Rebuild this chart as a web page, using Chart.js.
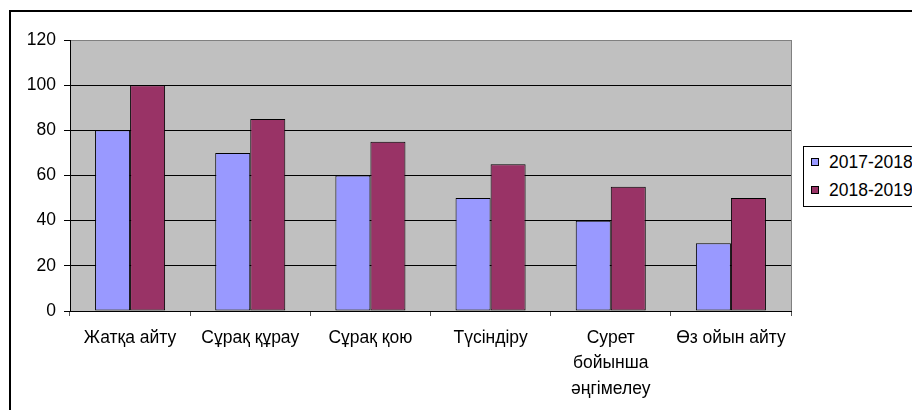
<!DOCTYPE html>
<html>
<head>
<meta charset="utf-8">
<script src="https://cdn.jsdelivr.net/npm/chart.js@4"></script>
<style>
   html, body {
      margin: 0;
      padding: 0;
      background: #fff;
      overflow: hidden;
   }
   #wrap {
      position: relative;
      width: 912px;
      height: 410px;
      overflow: hidden;
   }
   #legend {
      position: absolute;
      left: 803px;
      top: 146px;
      width: 140px;
      height: 61px;
      border: 1px solid #000;
      background: #fff;
      font-family: "Liberation Sans", Arial, sans-serif;
      font-size: 17.5px;
      color: #000;
      box-sizing: border-box;
   }
   .legend-item {
      position: absolute;
      left: 7px;
      height: 20px;
      display: flex;
      align-items: center;
      white-space: nowrap;
   }
   .legend-swatch {
      width: 6px;
      height: 6px;
      border: 1px solid #000;
      margin-right: 10px;
   }
</style>
</head>
<body>
<div id="wrap">
   <canvas id="chart" width="912" height="410"></canvas>
   <div id="legend"></div>
</div>
<script>
const categories = [
   "Жатқа айту",
   "Сұрақ құрау",
   "Сұрақ қою",
   "Түсіндіру",
   ["Сурет", "бойынша", "әңгімелеу"],
   "Өз ойын айту"
];
const seriesNames = ["2017-2018", "2018-2019"];
const values2017 = [80, 70, 60, 50, 40, 30];
const values2018 = [100, 85, 75, 65, 55, 50];
const yTicks = [0, 20, 40, 60, 80, 100, 120];
const seriesColors = ["#9999ff", "#993366"];

const FONT = "'Liberation Sans', Arial, sans-serif";

const frame = {
   id: "frame",
   beforeDraw(chart) {
      const { ctx, chartArea } = chart;
      ctx.save();
      ctx.fillStyle = "#fff";
      ctx.fillRect(0, 0, chart.width, chart.height);
      ctx.strokeStyle = "#000";
      ctx.lineWidth = 2;
      ctx.strokeRect(10, 11, chart.width + 20, chart.height + 20);
      ctx.fillStyle = "#c0c0c0";
      ctx.fillRect(chartArea.left, chartArea.top, chartArea.right - chartArea.left, chartArea.bottom - chartArea.top);
      ctx.strokeStyle = "#808080";
      ctx.lineWidth = 1;
      ctx.strokeRect(chartArea.left + 0.5, chartArea.top + 0.5, chartArea.right - chartArea.left, chartArea.bottom - chartArea.top);
      ctx.restore();
   }
};

new Chart(document.getElementById("chart"), {
   type: "bar",
   data: {
      labels: categories,
      datasets: [
         {
            label: seriesNames[0],
            data: values2017,
            backgroundColor: seriesColors[0],
            borderColor: "#000",
            borderWidth: 1,
            borderSkipped: false
         },
         {
            label: seriesNames[1],
            data: values2018,
            backgroundColor: seriesColors[1],
            borderColor: "#000",
            borderWidth: 1,
            borderSkipped: false
         }
      ]
   },
   options: {
      responsive: false,
      animation: false,
      devicePixelRatio: 1,
      layout: {
         padding: { left: 0, top: 40, right: 121, bottom: 0 }
      },
      datasets: {
         bar: {
            categoryPercentage: 0.583,
            barPercentage: 1
         }
      },
      plugins: {
         legend: { display: false },
         tooltip: { enabled: false }
      },
      scales: {
         x: {
            afterFit(scale) {
               scale.height = 99;
            },
            grid: {
               offset: true,
               drawOnChartArea: false,
               drawTicks: true,
               tickLength: 5,
               tickColor: "#555"
            },
            border: { color: "#000", width: 1 },
            ticks: {
               autoSkip: false,
               maxRotation: 0,
               minRotation: 0,
               padding: 9,
               color: "#000",
               font: { family: FONT, size: 17.5, lineHeight: 1.46 }
            }
         },
         y: {
            min: yTicks[0],
            max: yTicks[yTicks.length - 1],
            afterFit(scale) {
               scale.width = 70;
            },
            afterBuildTicks(scale) {
               scale.ticks = yTicks.map((v) => ({ value: v }));
            },
            grid: {
               color(ctx) {
                  return ctx.tick && ctx.tick.value === yTicks[yTicks.length - 1] ? "#808080" : "#000";
               },
               tickColor: "#000",
               tickLength: 6,
               lineWidth: 1
            },
            border: { color: "#000", width: 1 },
            ticks: {
               padding: 8,
               color: "#000",
               font: { family: FONT, size: 17.5 }
            }
         }
      }
   },
   plugins: [frame]
});

const legend = document.getElementById("legend");
seriesNames.forEach((name, i) => {
   const item = document.createElement("div");
   item.className = "legend-item";
   item.style.top = (5 + i * 28) + "px";
   item.innerHTML = `<span class="legend-swatch" style="background:${seriesColors[i]}"></span><span>${name}</span>`;
   legend.appendChild(item);
});
</script>
</body>
</html>
